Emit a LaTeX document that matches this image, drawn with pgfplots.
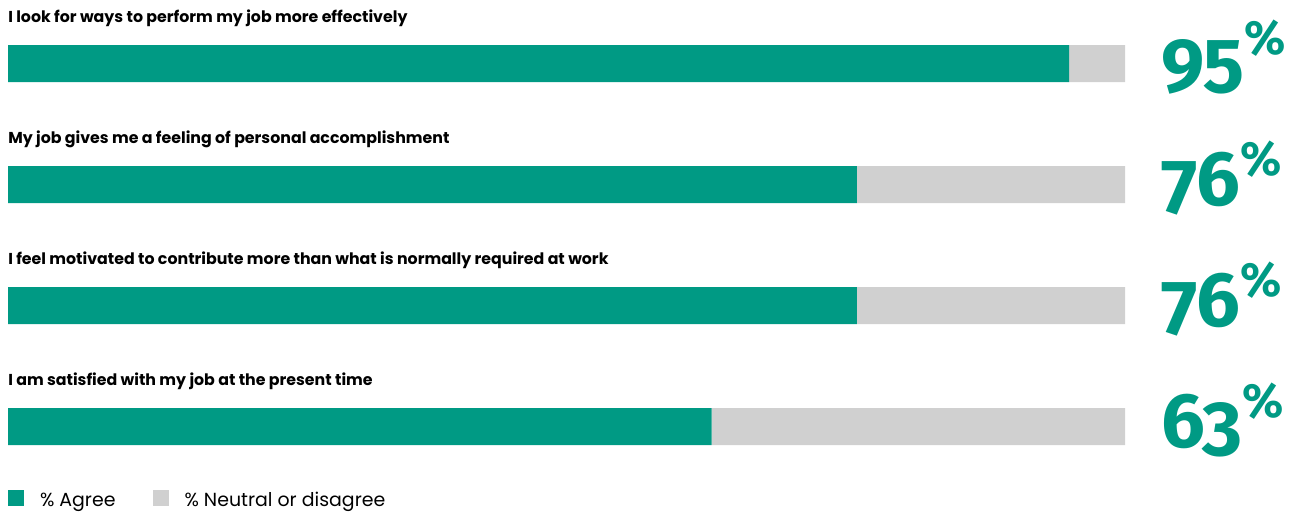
\documentclass[border=0pt]{standalone}
\usepackage{pgfplots}
\pgfplotsset{compat=1.18}
\usepackage{fontspec}
\setmainfont{Poppins}
\newfontfamily\numfont[Numbers=OldStyle]{Fira Sans}
\definecolor{agree}{RGB}{0,154,132}
\definecolor{neutral}{RGB}{208,208,208}
\newcommand{\lab}[1]{{\fontsize{11.85}{13}\selectfont\bfseries #1}}
\newcommand{\bignum}[1]{{\color{agree}\numfont\bfseries\fontsize{58}{58}\selectfont #1\raisebox{22.5pt}{\fontsize{36}{36}\selectfont\%}}}
\begin{document}
\begin{tikzpicture}
\path[use as bounding box] (0,0) rectangle (970.5pt,-383.25pt);
\begin{axis}[
  at={(6pt,-2.25pt)}, anchor=north west,
  scale only axis, width=837.75pt, height=363pt,
  xmin=0, xmax=100, ymin=-3.5, ymax=0.5,
  xbar stacked, bar width=27.75pt,
  hide axis, clip=false,
  legend columns=2,
  legend cell align=left,
  legend style={at={(0,-0.0255)}, anchor=west, draw=none, fill=none,
    inner sep=0pt, outer sep=0pt, font=\fontsize{14.2}{16}\selectfont,
    nodes={inner sep=0pt},
    /tikz/every odd column/.append style={column sep=12pt},
    /tikz/every even column/.append style={column sep=27.75pt}},
  legend image code/.code={\fill[#1] (0pt,-4pt) rectangle (12pt,8pt);},
]
\addplot[fill=agree, draw=none] coordinates {(95,0) (76,-1) (76,-2) (63,-3)};
\addplot[fill=neutral, draw=none] coordinates {(5,0) (24,-1) (24,-2) (37,-3)};
\legend{\% Agree, \% Neutral or disagree}
\node[anchor=base west, inner sep=0pt] at (axis cs:0,0.343) {\lab{I look for ways to perform my job more effectively}};
\node[anchor=base west, inner sep=0pt] at (axis cs:0,-0.657) {\lab{My job gives me a feeling of personal accomplishment}};
\node[anchor=base west, inner sep=0pt] at (axis cs:0,-1.657) {\lab{I feel motivated to contribute more than what is normally required at work}};
\node[anchor=base west, inner sep=0pt] at (axis cs:0,-2.657) {\lab{I am satisfied with my job at the present time}};
\node[anchor=base west, inner sep=0pt] at (axis cs:103.2,-0.171) {\bignum{95}};
\node[anchor=base west, inner sep=0pt] at (axis cs:103.2,-1.171) {\bignum{76}};
\node[anchor=base west, inner sep=0pt] at (axis cs:103.2,-2.171) {\bignum{76}};
\node[anchor=base west, inner sep=0pt] at (axis cs:103.2,-3.171) {\bignum{63}};
\end{axis}
\end{tikzpicture}
\end{document}
